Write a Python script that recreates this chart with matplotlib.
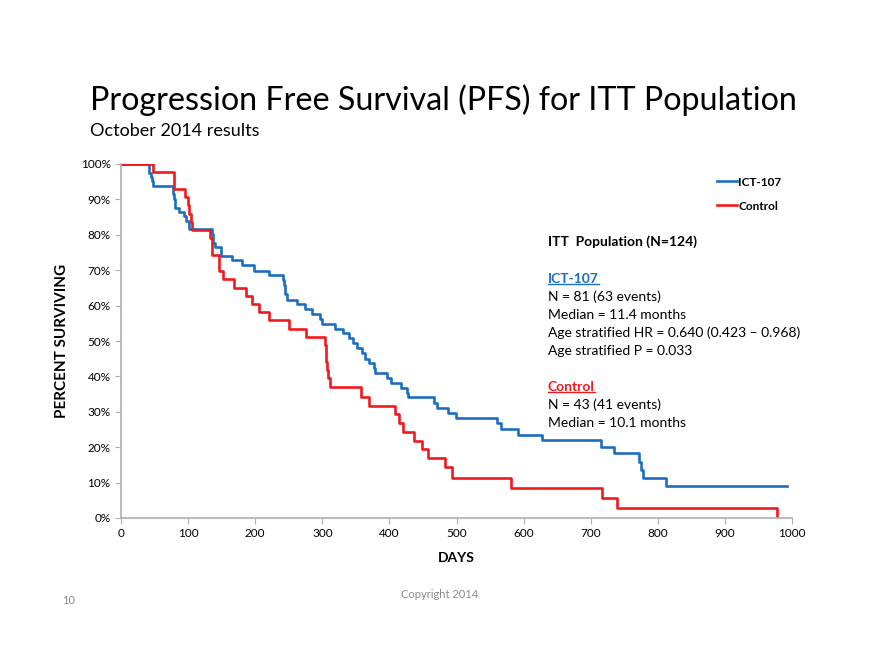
import matplotlib
matplotlib.use("Agg")
import matplotlib.pyplot as plt
from matplotlib.lines import Line2D

plt.rcParams['font.family'] = ['Lato', 'DejaVu Sans']

# Kaplan-Meier steps (days, percent surviving)
ict_days = [0, 41, 42, 44, 46, 48, 77, 79, 81, 86, 94, 97, 101, 135, 137, 140, 149,
            166, 181, 198, 221, 241, 243, 244, 245, 247, 263, 274, 284, 296, 299,
            319, 331, 340, 346, 352, 359, 364, 370, 377, 379, 397, 402, 417, 426,
            428, 466, 471, 487, 499, 561, 567, 591, 627, 715, 734, 772, 775, 778,
            812, 992]
ict_pct = [100, 98.8, 97.5, 96.3, 95.1, 93.8, 91.4, 90.1, 87.7, 86.4, 85.2, 84.0,
           81.5, 80.2, 77.8, 76.5, 74.1, 72.8, 71.6, 69.9, 68.6, 67.2, 65.9, 64.7,
           63.4, 61.7, 60.4, 59.0, 57.6, 56.1, 54.8, 53.4, 52.2, 50.8, 49.3, 47.9,
           46.5, 45.0, 43.7, 42.3, 40.9, 39.5, 38.0, 36.6, 35.4, 34.1, 32.6, 31.0,
           29.6, 28.2, 26.7, 25.1, 23.4, 22.0, 20.1, 18.3, 15.9, 13.5, 11.2, 9.0, 9.0]

ctl_days = [0, 48, 79, 95, 100, 101, 105, 106, 133, 135, 146, 152, 168, 187, 195,
            206, 220, 250, 275, 304, 305, 306, 307, 309, 312, 358, 369, 408, 414,
            420, 437, 449, 457, 483, 493, 581, 717, 739, 977]
ctl_pct = [100, 97.7, 93.0, 90.7, 88.4, 86.0, 83.7, 81.4, 79.1, 74.4, 69.8, 67.4,
           65.1, 62.8, 60.5, 58.1, 55.8, 53.5, 51.2, 48.8, 46.5, 44.2, 41.9, 39.5,
           37.0, 34.3, 31.6, 29.4, 26.9, 24.4, 21.8, 19.4, 17.0, 14.3, 11.4, 8.6,
           5.7, 2.9, 0]

blue = "#1C6EC0"
red = "#F0191E"

fig = plt.figure(figsize=(8.8, 6.6), dpi=100)
ax = fig.add_axes([121/880, 1-518/660, (792-121)/880, (518-164)/660])

ax.step(ict_days, ict_pct, where='post', color=blue, lw=1.9, label="ICT-107")
ax.step(ctl_days, ctl_pct, where='post', color=red, lw=1.9, label="Control")

ax.set_xlim(0, 1000)
ax.set_ylim(0, 100)
ax.set_xticks(range(0, 1001, 100))
ax.set_yticks(range(0, 101, 10))
ax.set_yticklabels([f"{v}%" for v in range(0, 101, 10)])
for s in ['top', 'right']:
    ax.spines[s].set_visible(False)
for s in ['left', 'bottom']:
    ax.spines[s].set_color("#b0b0b0")
    ax.spines[s].set_linewidth(1.2)
ax.tick_params(colors="#b0b0b0", labelcolor="black", labelsize=8.5, length=4, direction='out')

ax.set_xlabel("DAYS", fontsize=10, fontweight='bold', labelpad=9)
ax.set_ylabel("PERCENT SURVIVING", fontsize=11, fontweight='bold', labelpad=8)

ax.legend(loc='upper left', bbox_to_anchor=(706/880, 1-166/660),
          bbox_transform=fig.transFigure, frameon=False, handlelength=1.7,
          handletextpad=0.15, labelspacing=1.1, prop={'weight': 'bold', 'size': 8.5})

fig.text(90/880, 1-100/660, "Progression Free Survival (PFS) for ITT Population",
         fontsize=23.2, va='center', ha='left')
fig.text(90/880, 1-131/660, "October 2014 results", fontsize=13, va='center', ha='left')

tx = 548/880
fs = 10
fig.text(tx, 1-242/660, "ITT  Population (N=124)", fontsize=fs, fontweight='bold', va='center')
t_ict = fig.text(tx, 1-279/660, "ICT-107", fontsize=fs, fontweight='bold', color=blue, va='center')
lines_ict = ["N = 81 (63 events)", "Median = 11.4 months",
             "Age stratified HR = 0.640 (0.423 \u2013 0.968)", "Age stratified P = 0.033"]
for i, s in enumerate(lines_ict):
    fig.text(tx, 1-(297 + 18*i)/660, s, fontsize=fs, va='center')
t_ctl = fig.text(tx, 1-387/660, "Control", fontsize=fs, fontweight='bold', color=red, va='center')
for i, s in enumerate(["N = 43 (41 events)", "Median = 10.1 months"]):
    fig.text(tx, 1-(405 + 18*i)/660, s, fontsize=fs, va='center')

# underline the two group headings
fig.canvas.draw()
r = fig.canvas.get_renderer()
inv = fig.transFigure.inverted()
for t, c in [(t_ict, blue), (t_ctl, red)]:
    bb = t.get_window_extent(r)
    (x0, y0), (x1, _) = inv.transform([(bb.x0, bb.y0), (bb.x1, bb.y1)])
    fig.add_artist(Line2D([x0, x1], [y0 + 0.001, y0 + 0.001], color=c, lw=1.0,
                          transform=fig.transFigure))

fig.text(62/880, 1-601/660, "10", fontsize=8, color="#888888", va='center')
fig.text(440/880, 1-594/660, "Copyright 2014", fontsize=8, color="#888888",
         va='center', ha='center')

fig.savefig("out.png", dpi=100)
